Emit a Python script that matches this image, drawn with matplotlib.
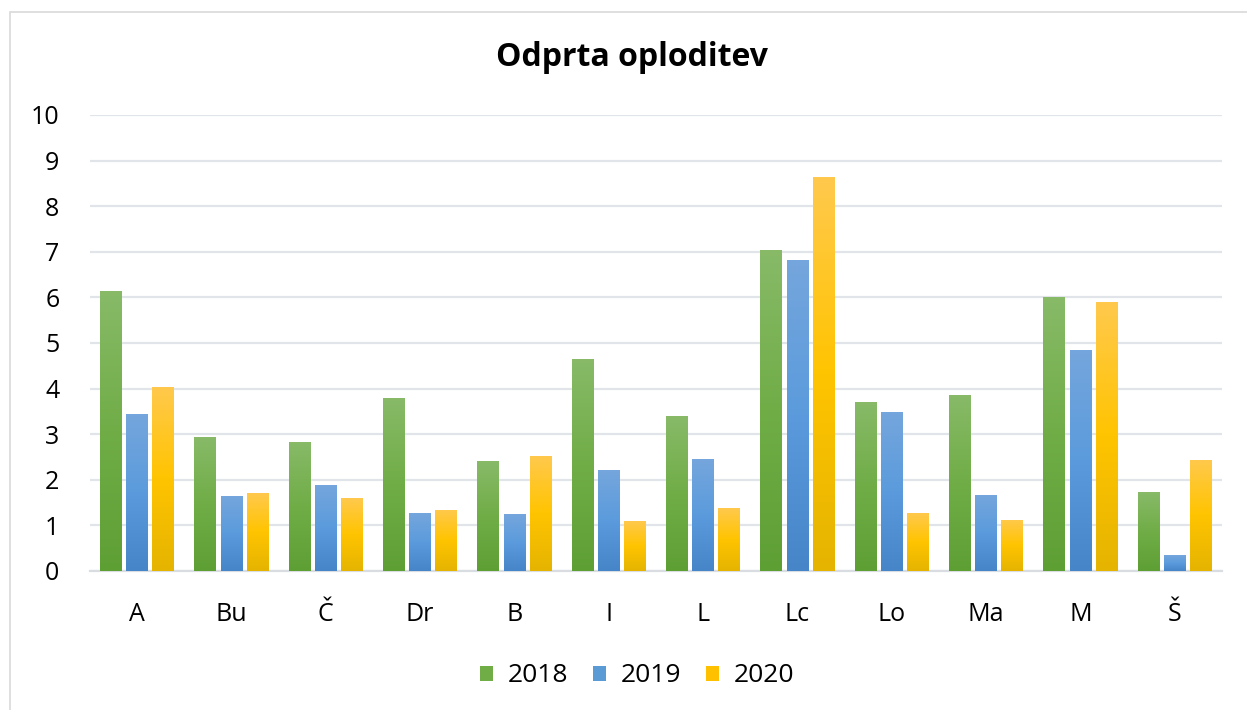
import numpy as np
import matplotlib
matplotlib.use("Agg")
import matplotlib.pyplot as plt
from matplotlib.patches import Rectangle, Patch
from matplotlib.colors import LinearSegmentedColormap

categories = ["A", "Bu", "Č", "Dr", "B", "I", "L", "Lc", "Lo", "Ma", "M", "Š"]
years = ["2018", "2019", "2020"]
v2018 = [6.15, 2.94, 2.83, 3.80, 2.41, 4.66, 3.39, 7.05, 3.71, 3.87, 6.00, 1.73]
v2019 = [3.45, 1.65, 1.89, 1.27, 1.25, 2.21, 2.45, 6.83, 3.49, 1.67, 4.85, 0.35]
v2020 = [4.04, 1.71, 1.60, 1.34, 2.52, 1.09, 1.38, 8.63, 1.27, 1.12, 5.89, 2.44]
series = [v2018, v2019, v2020]

# gradient colours (bottom, middle, top)
grads = [
    ["#5e9f34", "#70ad47", "#88ba68"],
    ["#4585c8", "#5b9bdd", "#75a6dc"],
    ["#e5b400", "#ffc400", "#ffc94d"],
]
solid = ["#70ad47", "#5b9bd5", "#ffc000"]

plt.rcParams['font.family'] = ['Open Sans', 'DejaVu Sans']

W, H = 1247, 710
fig = plt.figure(figsize=(W / 100, H / 100), dpi=100)
fig.patch.set_facecolor("white")

# chart border
fig.patches.append(Rectangle((10 / W, -0.05), 1.1, 1 - 12 / H + 0.05, transform=fig.transFigure,
                             fill=False, edgecolor="#d9d9d9", linewidth=1.2, zorder=0))

ax = fig.add_axes([90 / W, (H - 571) / H, (1222 - 90) / W, (571 - 115) / H])

x = np.arange(len(categories))
bw = 0.233
step = 0.276
grad = np.linspace(0, 1, 256).reshape(-1, 1)
for i, vals in enumerate(series):
    cmap = LinearSegmentedColormap.from_list(f"g{i}", grads[i])
    bars = ax.bar(x + (i - 1) * step, vals, width=bw, color=solid[i], zorder=2, linewidth=0)
    for b in bars:
        x0, w, h = b.get_x(), b.get_width(), b.get_height()
        im = ax.imshow(grad, extent=[x0, x0 + w, 0, h], origin="lower", aspect="auto",
                       cmap=cmap, zorder=3, interpolation="bilinear")
        im.set_clip_path(b)

ax.set_xlim(-0.5, len(categories) - 0.5)
ax.set_ylim(0, 10)
ax.set_yticks(range(0, 11))
ax.set_xticks(x)
ax.set_xticklabels(categories)
ax.yaxis.grid(True, color="#e1e4e8", linewidth=1.6, zorder=0)
ax.set_axisbelow(True)
for s in ["top", "right", "left"]:
    ax.spines[s].set_visible(False)
ax.spines["bottom"].set_color("#d9dde2")
ax.spines["bottom"].set_linewidth(1.6)
ax.spines["bottom"].set_zorder(1)
ax.tick_params(axis="both", length=0, labelsize=18, colors="#000000")
ax.tick_params(axis="y", pad=22)
ax.tick_params(axis="x", pad=22)
for lab in ax.get_yticklabels():
    lab.set_horizontalalignment("right")

fig.text(632 / W, 1 - 58 / H, "Odprta oploditev", ha="center", va="center",
         fontsize=23, fontweight="bold")

handles = [Patch(facecolor=solid[i], edgecolor="none") for i in range(3)]
fig.legend(handles, years, loc="center", bbox_to_anchor=(637 / W, 1 - 676 / H), ncol=3,
           frameon=False, fontsize=19, handlelength=0.5, handleheight=0.5,
           columnspacing=0.95, handletextpad=0.55)

fig.savefig("out.png", dpi=100)
